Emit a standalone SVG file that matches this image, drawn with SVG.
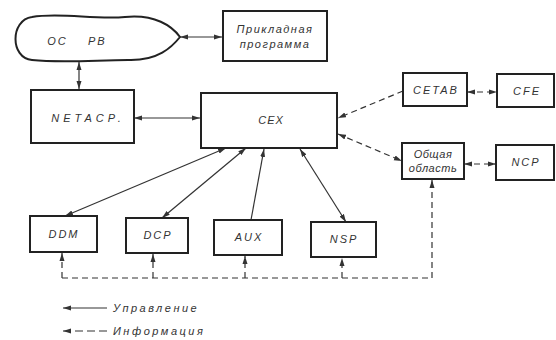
<svg xmlns="http://www.w3.org/2000/svg" width="556" height="340" viewBox="0 0 556 340">
<defs>
<style>
.box{fill:#fff;stroke:#222;stroke-width:2}
.ln{fill:none;stroke:#333;stroke-width:1.2}
.dl{fill:none;stroke:#333;stroke-width:1.2;stroke-dasharray:6,4}
text{font-family:"Liberation Sans",Arial,sans-serif;font-style:italic;font-size:11px;fill:#333;text-anchor:middle;letter-spacing:2px}
</style>
<marker id="a" viewBox="0 0 8 6" refX="8" refY="3" markerWidth="8" markerHeight="6" markerUnits="userSpaceOnUse" orient="auto-start-reverse">
<path d="M0,0.5 L8,3 L0,5.5 Z" fill="#333"/>
</marker>
</defs>
<g id="connectors">
<line class="ln" x1="180" y1="37" x2="222" y2="37" marker-start="url(#a)" marker-end="url(#a)"/>
<line class="ln" x1="79" y1="62" x2="79" y2="89" marker-start="url(#a)" marker-end="url(#a)"/>
<line class="ln" x1="134" y1="118" x2="200" y2="118" marker-start="url(#a)" marker-end="url(#a)"/>
<line class="dl" x1="403" y1="91" x2="338" y2="118" marker-end="url(#a)"/>
<line class="dl" x1="338" y1="134" x2="402" y2="161" marker-start="url(#a)" marker-end="url(#a)"/>
<line class="dl" x1="467" y1="92" x2="497" y2="92" marker-start="url(#a)" marker-end="url(#a)"/>
<line class="dl" x1="464" y1="164" x2="496" y2="164" marker-start="url(#a)" marker-end="url(#a)"/>
<line class="ln" x1="65" y1="216" x2="226" y2="148" marker-start="url(#a)" marker-end="url(#a)"/>
<line class="ln" x1="162" y1="218" x2="246" y2="148" marker-start="url(#a)" marker-end="url(#a)"/>
<line class="ln" x1="251" y1="220" x2="264" y2="149" marker-end="url(#a)"/>
<line class="ln" x1="346" y1="222" x2="300" y2="149" marker-start="url(#a)" marker-end="url(#a)"/>
<path class="dl" d="M62,278 H432 V180"/>
<line class="dl" x1="62" y1="278" x2="62" y2="253" marker-end="url(#a)"/>
<line class="dl" x1="153" y1="278" x2="153" y2="254" marker-end="url(#a)"/>
<line class="dl" x1="245" y1="278" x2="245" y2="256" marker-end="url(#a)"/>
<line class="dl" x1="342" y1="278" x2="342" y2="258" marker-end="url(#a)"/>
<line class="ln" x1="432" y1="186" x2="432" y2="180" marker-end="url(#a)"/>
</g>
<g id="os_rv">
<path class="box" d="M32,17 C60,12 95,20 125,17 C155,14 172,26 180,37 C172,47 158,61 128,60 C98,60 62,63 32,60 C10,58 10,20 32,17 Z"/>
<text x="77" y="45" xml:space="preserve">ОС    РВ</text>
</g>
<g id="prikladnaya">
<rect class="box" x="223" y="11" width="104" height="50"/>
<text x="275" y="33" style="letter-spacing:1.5px">Прикладная</text>
<text x="275" y="48" style="letter-spacing:1.5px">программа</text>
</g>
<g id="netacp">
<rect class="box" x="31" y="90" width="103" height="53"/>
<text x="88" y="122" style="letter-spacing:4px">NETACP.</text>
</g>
<g id="cex">
<rect class="box" x="201" y="93" width="136" height="55"/>
<text x="271" y="124" style="letter-spacing:1px">CEX</text>
</g>
<g id="cetab">
<rect class="box" x="403" y="73" width="64" height="33"/>
<text x="436" y="94">CETAB</text>
</g>
<g id="cfe">
<rect class="box" x="497" y="74" width="57" height="33"/>
<text x="527" y="95">CFE</text>
</g>
<g id="obshchaya">
<rect class="box" x="402" y="143" width="62" height="36"/>
<text x="433" y="158" style="letter-spacing:0.5px">Общая</text>
<text x="433" y="172" style="letter-spacing:0.5px">область</text>
</g>
<g id="ncp">
<rect class="box" x="496" y="145" width="58" height="35"/>
<text x="526" y="166">NCP</text>
</g>
<g id="ddm">
<rect class="box" x="30" y="216" width="67" height="36"/>
<text x="64" y="238">DDM</text>
</g>
<g id="dcp">
<rect class="box" x="126" y="218" width="62" height="35"/>
<text x="158" y="239">DCP</text>
</g>
<g id="aux">
<rect class="box" x="214" y="220" width="68" height="35"/>
<text x="249" y="241">AUX</text>
</g>
<g id="nsp">
<rect class="box" x="311" y="222" width="65" height="35"/>
<text x="344" y="243">NSP</text>
</g>
<g id="legend">
<line class="ln" x1="107" y1="308" x2="63" y2="308" marker-end="url(#a)"/>
<text x="113" y="312" style="text-anchor:start;letter-spacing:2.5px">Управление</text>
<line class="dl" x1="107" y1="331" x2="63" y2="331" style="stroke-dasharray:8,4" marker-end="url(#a)"/>
<text x="113" y="335" style="text-anchor:start;letter-spacing:2.5px">Информация</text>
</g>
</svg>
